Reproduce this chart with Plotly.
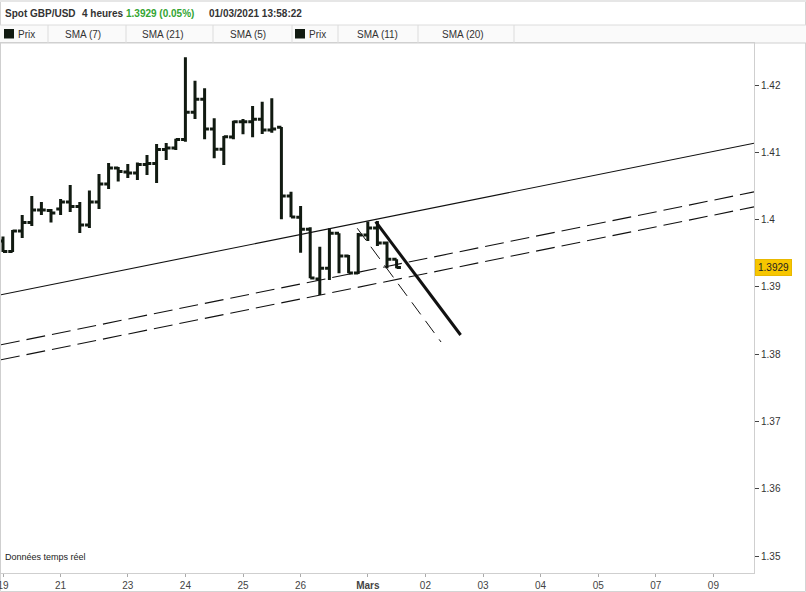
import plotly.graph_objects as go

# ---------------- data (4-hour GBP/USD bars, index = bar number) ----------------
bar_index = list(range(42))
open_ = [1.39682, 1.39526, 1.39831, 1.39957, 1.40143, 1.40135, 1.40157, 1.40262, 1.40195, 1.39920,
         1.40262, 1.40529, 1.40767, 1.40707, 1.40692, 1.40819, 1.40834, 1.41042, 1.41064, 1.41190,
         1.41594, 1.41788, 1.41346, 1.41045, 1.41227, 1.41455, 1.41455, 1.41490, 1.41331, 1.41371,
         1.40351, 1.40034, 1.39856, 1.39117, 1.39276, 1.39796, 1.39459, 1.39207, 1.39771, 1.39875,
         1.39652, 1.39410]
high = [1.39749, 1.39845, 1.40068, 1.40351, 1.40262, 1.40157, 1.40306, 1.40514, 1.40262, 1.40432,
        1.40678, 1.40841, 1.40782, 1.40826, 1.40848, 1.40960, 1.41123, 1.41138, 1.41202, 1.42412,
        1.42064, 1.41951, 1.41505, 1.41242, 1.41470, 1.41495, 1.41688, 1.41752, 1.41802, 1.41376,
        1.40415, 1.40202, 1.39886, 1.39597, 1.39871, 1.39796, 1.39474, 1.39801, 1.39972, 1.39979,
        1.39675, 1.39410]
low = [1.39519, 1.39519, 1.39727, 1.39905, 1.40068, 1.39957, 1.40068, 1.40113, 1.39801, 1.39875,
       1.40157, 1.40455, 1.40566, 1.40618, 1.40588, 1.40663, 1.40544, 1.40886, 1.41034, 1.41157,
       1.41495, 1.41193, 1.40911, 1.40811, 1.41193, 1.41267, 1.41223, 1.41272, 1.41291, 1.40004,
       1.40034, 1.39508, 1.39128, 1.38880, 1.39103, 1.39202, 1.39202, 1.39192, 1.39682, 1.39608,
       1.39276, 1.39276]
close = [1.39526, 1.39831, 1.39957, 1.40143, 1.40143, 1.40098, 1.40262, 1.40195, 1.39920, 1.40262,
         1.40529, 1.40767, 1.40715, 1.40692, 1.40819, 1.40834, 1.41042, 1.41064, 1.41190, 1.41594,
         1.41788, 1.41346, 1.41045, 1.41232, 1.41455, 1.41455, 1.41490, 1.41331, 1.41346, 1.40351,
         1.40039, 1.39856, 1.39132, 1.39276, 1.39796, 1.39459, 1.39207, 1.39771, 1.39875, 1.39652,
         1.39410, 1.39290]

x_tick_vals = [0, 6, 13, 19, 25, 31, 38, 44, 50, 56, 62, 68, 74]
x_tick_text = ["19", "21", "23", "24", "25", "26", "<b>Mars</b>", "02", "03", "04", "05", "07", "09"]
y_tick_vals = [1.35, 1.36, 1.37, 1.38, 1.39, 1.40, 1.41, 1.42]
y_tick_text = ["1.35", "1.36", "1.37", "1.38", "1.39", "1.4", "1.41", "1.42"]

last_price = 1.3929
x_range = [-0.208, 78.229]
y_range = [1.347489, 1.426241]

# drawn trend lines: (x indices, prices)
trend_solid_x = [-0.208, 78.229]
trend_solid_y = [1.388826, 1.411352]
channel_up_x = [-0.208, 78.229]
channel_up_y = [1.381397, 1.404116]
channel_lo_x = [-0.208, 78.229]
channel_lo_y = [1.379168, 1.401887]
down_thick_x = [38.82, 47.67]
down_thick_y = [1.39969, 1.38285]
down_dash_x = [36.9, 45.63]
down_dash_y = [1.39871, 1.38181]

legend_items = ["Prix", "SMA (7)", "SMA (21)", "SMA (5)", "Prix", "SMA (11)", "SMA (20)"]

# ---------------- layout geometry ----------------
W, H = 806, 592
L, R, T, B = 1, 52, 43, 19
PW, PH = W - L - R, H - T - B


def px(xp):
    return (xp - L) / PW


def py(yp):
    return (H - B - yp) / PH


FONT = "Liberation Sans, Arial, sans-serif"
BAR_COLOR = "#111a11"

fig = go.Figure()

fig.add_trace(go.Ohlc(
    x=bar_index, open=open_, high=high, low=low, close=close,
    increasing=dict(line=dict(color=BAR_COLOR, width=3)),
    decreasing=dict(line=dict(color=BAR_COLOR, width=3)),
    tickwidth=0.45, hoverinfo="skip", showlegend=False,
))

for xs, ys, w, d in [
    (trend_solid_x, trend_solid_y, 1.1, "solid"),
    (channel_up_x, channel_up_y, 1.1, "19px,7px"),
    (channel_lo_x, channel_lo_y, 1.1, "19px,7px"),
    (down_dash_x, down_dash_y, 1.0, "15px,8px"),
    (down_thick_x, down_thick_y, 3, "solid"),
]:
    fig.add_trace(go.Scatter(x=xs, y=ys, mode="lines",
                             line=dict(color="#111111", width=w, dash=d),
                             hoverinfo="skip", showlegend=False))

shapes = []
annotations = []

# outer frame
shapes.append(dict(type="rect", xref="paper", yref="paper", x0=px(0.5), x1=px(805.5),
                   y0=py(591.5), y1=py(0.5), line=dict(color="#d4d4d4", width=1), layer="below"))
# top gray strip
shapes.append(dict(type="rect", xref="paper", yref="paper", x0=px(0), x1=px(806),
                   y0=py(2), y1=py(0), line=dict(width=0), fillcolor="#e6e6e6", layer="below"))
# legend row
shapes.append(dict(type="rect", xref="paper", yref="paper", x0=px(0), x1=px(806),
                   y0=py(43), y1=py(25), line=dict(width=0), fillcolor="#fafafa", layer="below"))
shapes.append(dict(type="line", xref="paper", yref="paper", x0=px(0), x1=px(806),
                   y0=py(25), y1=py(25), line=dict(color="#dcdcdc", width=1)))
shapes.append(dict(type="line", xref="paper", yref="paper", x0=px(0), x1=px(806),
                   y0=py(43), y1=py(43), line=dict(color="#d0d0d0", width=1)))
for sx in [48, 126, 213, 292, 338, 418, 514]:
    shapes.append(dict(type="line", xref="paper", yref="paper", x0=px(sx), x1=px(sx),
                       y0=py(43), y1=py(25), line=dict(color="#dcdcdc", width=1)))
for sq in [4, 295]:
    shapes.append(dict(type="rect", xref="paper", yref="paper", x0=px(sq), x1=px(sq + 10),
                       y0=py(38.5), y1=py(29), line=dict(width=0), fillcolor="#111a11"))

# header texts (x = left edge of text minus 2px annotation padding)
for xpix, txt, col in [
    (3, "Spot GBP/USD", "#333333"),
    (80, "4 heures", "#333333"),
    (124, "1.3929 (0.05%)", "#33a532"),
    (207, "01/03/2021 13:58:22", "#333333"),
]:
    annotations.append(dict(xref="paper", yref="paper", x=px(xpix), y=py(14), xanchor="left",
                            yanchor="middle", text="<b>%s</b>" % txt, showarrow=False,
                            font=dict(family=FONT, size=10, color=col)))

# legend texts
leg_pos = [(16, "left"), (83, "center"), (163, "center"), (248, "center"),
           (307, "left"), (377, "center"), (463, "center")]
for (xpix, anc), txt in zip(leg_pos, legend_items):
    annotations.append(dict(xref="paper", yref="paper", x=px(xpix), y=py(34.5), xanchor=anc,
                            yanchor="middle", text=txt, showarrow=False,
                            font=dict(family=FONT, size=10, color="#333333")))

annotations.append(dict(xref="paper", yref="paper", x=px(3), y=py(557), xanchor="left",
                        yanchor="middle", text="Données temps réel", showarrow=False,
                        font=dict(family=FONT, size=9, color="#222222")))

# last price tag
annotations.append(dict(xref="paper", yref="y", x=px(755), y=last_price, xanchor="left",
                        yanchor="middle", text="1.3929", showarrow=False,
                        bgcolor="#f7c600", bordercolor="#e8b800", borderwidth=1, borderpad=2,
                        font=dict(family=FONT, size=10, color="#222222")))

fig.update_layout(
    width=W, height=H,
    margin=dict(l=L, r=R, t=T, b=B, pad=0, autoexpand=False),
    paper_bgcolor="white", plot_bgcolor="white",
    showlegend=False,
    shapes=shapes, annotations=annotations,
    xaxis=dict(range=x_range, tickmode="array", tickvals=x_tick_vals, ticktext=x_tick_text,
               showgrid=False, zeroline=False, showline=True, linecolor="#cfcfcf", linewidth=1,
               mirror=True, ticks="outside", ticklen=3, tickcolor="#aaaaaa", automargin=False,
               tickfont=dict(family=FONT, size=10, color="#444444"),
               ticklabeloverflow="allow", rangeslider=dict(visible=False), fixedrange=True),
    yaxis=dict(range=y_range, side="right", tickmode="array", tickvals=y_tick_vals,
               ticktext=y_tick_text, showgrid=False, zeroline=False, showline=True,
               linecolor="#cfcfcf", linewidth=1, mirror=True, ticks="outside", ticklen=4,
               automargin=False,
               tickcolor="#444444", tickfont=dict(family=FONT, size=10, color="#333333"),
               fixedrange=True),
)

fig.write_html("out.html", config={"displayModeBar": False},
               post_script="document.body.style.margin='0';document.body.style.overflow='hidden';")
